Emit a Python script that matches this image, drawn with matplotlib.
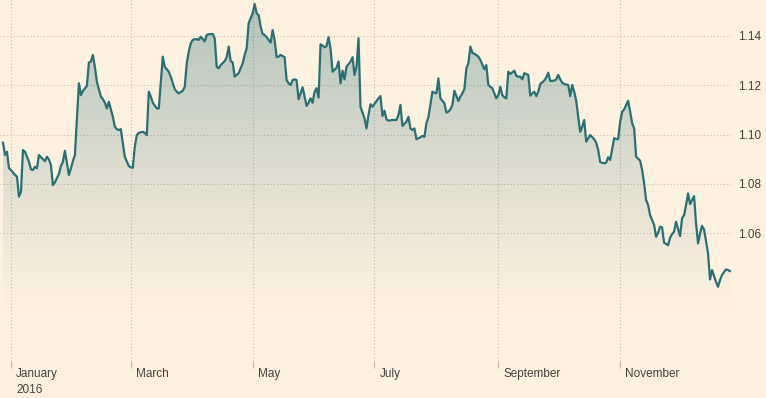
import numpy as np
import pandas as pd
import matplotlib
matplotlib.use("Agg")
import matplotlib.pyplot as plt
import matplotlib.dates as mdates
from matplotlib.transforms import ScaledTranslation

# EUR/USD daily
dates = [
    "2015-12-28", "2015-12-29", "2015-12-30", "2015-12-31",
    # Jan
    "2016-01-01", "2016-01-03", "2016-01-04", "2016-01-05", "2016-01-06", "2016-01-07", "2016-01-08",
    "2016-01-10", "2016-01-11", "2016-01-12", "2016-01-13", "2016-01-14", "2016-01-15", "2016-01-16",
    "2016-01-18", "2016-01-19", "2016-01-20", "2016-01-21", "2016-01-22", "2016-01-23", "2016-01-25",
    "2016-01-26", "2016-01-27", "2016-01-28", "2016-01-30", "2016-01-31",
    # Feb
    "2016-02-01", "2016-02-02", "2016-02-03", "2016-02-04", "2016-02-05", "2016-02-06", "2016-02-08",
    "2016-02-09", "2016-02-10", "2016-02-11", "2016-02-12", "2016-02-13", "2016-02-15", "2016-02-16",
    "2016-02-17", "2016-02-18", "2016-02-19", "2016-02-21", "2016-02-22", "2016-02-23", "2016-02-24",
    "2016-02-25", "2016-02-26", "2016-02-27", "2016-02-29",
    # Mar
    "2016-03-01", "2016-03-02", "2016-03-03", "2016-03-04", "2016-03-05", "2016-03-07", "2016-03-08",
    "2016-03-09", "2016-03-10", "2016-03-11", "2016-03-12", "2016-03-14", "2016-03-15", "2016-03-16",
    "2016-03-17", "2016-03-18", "2016-03-20", "2016-03-21", "2016-03-22", "2016-03-23", "2016-03-24",
    "2016-03-25", "2016-03-27", "2016-03-28", "2016-03-29", "2016-03-30", "2016-03-31",
    # Apr
    "2016-04-01", "2016-04-02", "2016-04-03", "2016-04-04", "2016-04-05", "2016-04-06", "2016-04-07",
    "2016-04-08", "2016-04-09", "2016-04-11", "2016-04-12", "2016-04-13", "2016-04-14", "2016-04-15",
    "2016-04-17", "2016-04-18", "2016-04-19", "2016-04-20", "2016-04-21", "2016-04-22", "2016-04-24",
    "2016-04-26", "2016-04-27", "2016-04-28", "2016-04-29",
    # May
    "2016-05-01", "2016-05-02", "2016-05-03", "2016-05-04", "2016-05-05", "2016-05-06", "2016-05-07",
    "2016-05-08", "2016-05-09", "2016-05-10", "2016-05-11", "2016-05-12", "2016-05-13", "2016-05-14",
    "2016-05-15", "2016-05-17", "2016-05-18", "2016-05-19", "2016-05-20", "2016-05-21", "2016-05-22",
    "2016-05-23", "2016-05-24", "2016-05-25", "2016-05-26", "2016-05-28", "2016-05-29", "2016-05-30",
    "2016-05-31",
    # Jun
    "2016-06-01", "2016-06-02", "2016-06-03", "2016-06-04", "2016-06-05", "2016-06-06", "2016-06-07",
    "2016-06-08", "2016-06-09", "2016-06-10", "2016-06-12", "2016-06-13", "2016-06-14", "2016-06-15",
    "2016-06-16", "2016-06-17", "2016-06-19", "2016-06-20", "2016-06-21", "2016-06-22", "2016-06-23",
    "2016-06-24", "2016-06-26", "2016-06-27", "2016-06-28", "2016-06-29", "2016-06-30",
    # Jul
    "2016-07-02", "2016-07-03", "2016-07-04", "2016-07-05", "2016-07-06", "2016-07-07", "2016-07-08",
    "2016-07-10", "2016-07-12", "2016-07-13", "2016-07-14", "2016-07-15", "2016-07-17", "2016-07-18",
    "2016-07-19", "2016-07-20", "2016-07-21", "2016-07-22", "2016-07-24", "2016-07-25", "2016-07-26",
    "2016-07-27", "2016-07-28", "2016-07-30", "2016-07-31",
    # Aug
    "2016-08-01", "2016-08-02", "2016-08-03", "2016-08-05", "2016-08-06", "2016-08-07", "2016-08-08",
    "2016-08-09", "2016-08-10", "2016-08-12", "2016-08-13", "2016-08-14", "2016-08-15", "2016-08-16",
    "2016-08-17", "2016-08-18", "2016-08-19", "2016-08-21", "2016-08-22", "2016-08-23", "2016-08-25",
    "2016-08-26", "2016-08-27", "2016-08-28", "2016-08-29", "2016-08-30", "2016-08-31",
    # Sep
    "2016-09-01", "2016-09-02", "2016-09-03", "2016-09-04", "2016-09-05", "2016-09-06", "2016-09-07",
    "2016-09-09", "2016-09-10", "2016-09-11", "2016-09-12", "2016-09-13", "2016-09-14", "2016-09-16",
    "2016-09-17", "2016-09-18", "2016-09-19", "2016-09-20", "2016-09-21", "2016-09-22", "2016-09-24",
    "2016-09-25", "2016-09-26", "2016-09-27", "2016-09-29", "2016-09-30",
    # Oct
    "2016-10-01", "2016-10-02", "2016-10-03", "2016-10-04", "2016-10-06", "2016-10-07", "2016-10-08",
    "2016-10-09", "2016-10-10", "2016-10-11", "2016-10-12", "2016-10-13", "2016-10-14", "2016-10-15",
    "2016-10-16", "2016-10-17", "2016-10-19", "2016-10-20", "2016-10-21", "2016-10-22", "2016-10-24",
    "2016-10-25", "2016-10-26", "2016-10-27", "2016-10-29", "2016-10-30", "2016-10-31",
    # Nov
    "2016-11-01", "2016-11-02", "2016-11-03", "2016-11-05", "2016-11-06", "2016-11-07", "2016-11-08",
    "2016-11-09", "2016-11-11", "2016-11-12", "2016-11-13", "2016-11-14", "2016-11-15", "2016-11-16",
    "2016-11-18", "2016-11-19", "2016-11-20", "2016-11-21", "2016-11-22", "2016-11-23", "2016-11-25",
    "2016-11-26", "2016-11-27", "2016-11-28", "2016-11-29",
    # Dec
    "2016-12-01", "2016-12-02", "2016-12-03", "2016-12-04", "2016-12-05", "2016-12-06", "2016-12-08",
    "2016-12-09", "2016-12-10", "2016-12-11", "2016-12-12", "2016-12-13", "2016-12-15", "2016-12-16",
    "2016-12-17", "2016-12-18", "2016-12-19", "2016-12-20", "2016-12-21", "2016-12-22", "2016-12-24",
    "2016-12-25", "2016-12-26",
]

rates = [
    1.0967, 1.0917, 1.0930, 1.0863,
    # Jan
    1.0856, 1.0836, 1.0829, 1.0748, 1.0768, 1.0937, 1.0930,
    1.0890, 1.0859, 1.0856, 1.0869, 1.0863, 1.0917, 1.0908,
    1.0892, 1.0910, 1.0899, 1.0876, 1.0795, 1.0806, 1.0840,
    1.0872, 1.0890, 1.0934, 1.0836, 1.0863,
    # Feb
    1.0892, 1.0917, 1.1059, 1.1208, 1.1160, 1.1177, 1.1197,
    1.1292, 1.1296, 1.1323, 1.1275, 1.1214, 1.1154, 1.1144,
    1.1129, 1.1106, 1.1133, 1.1072, 1.1032, 1.1022, 1.1018,
    1.1022, 1.0964, 1.0910, 1.0872,
    # Mar
    1.0867, 1.0865, 1.0951, 1.0998, 1.1007, 1.1011, 1.1007,
    1.0998, 1.1174, 1.1154, 1.1129, 1.1106, 1.1106, 1.1214,
    1.1316, 1.1275, 1.1255, 1.1235, 1.1210, 1.1184, 1.1174,
    1.1167, 1.1178, 1.1194, 1.1289, 1.1336, 1.1370,
    # Apr
    1.1384, 1.1387, 1.1387, 1.1384, 1.1397, 1.1388, 1.1378,
    1.1404, 1.1407, 1.1408, 1.1391, 1.1275, 1.1269, 1.1282,
    1.1298, 1.1314, 1.1357, 1.1298, 1.1293, 1.1235, 1.1249,
    1.1289, 1.1323, 1.1350, 1.1452,
    # May
    1.1492, 1.1530, 1.1492, 1.1485, 1.1438, 1.1408, 1.1404,
    1.1395, 1.1384, 1.1373, 1.1424, 1.1384, 1.1314, 1.1316,
    1.1323, 1.1314, 1.1221, 1.1208, 1.1201, 1.1221, 1.1224,
    1.1221, 1.1143, 1.1167, 1.1192, 1.1116, 1.1129, 1.1147,
    1.1129,
    # Jun
    1.1174, 1.1188, 1.1150, 1.1366, 1.1361, 1.1354, 1.1359,
    1.1395, 1.1350, 1.1255, 1.1271, 1.1296, 1.1208, 1.1259,
    1.1224, 1.1275, 1.1296, 1.1314, 1.1242, 1.1275, 1.1391,
    1.1113, 1.1066, 1.1025, 1.1079, 1.1123, 1.1113,
    # Jul
    1.1136, 1.1147, 1.1156, 1.1075, 1.1097, 1.1062, 1.1056,
    1.1059, 1.1059, 1.1079, 1.1120, 1.1035, 1.1052, 1.1072,
    1.1025, 1.1018, 1.1025, 1.0981, 1.0989, 1.0994, 1.0991,
    1.1046, 1.1070, 1.1174, 1.1170,
    # Aug
    1.1167, 1.1228, 1.1147, 1.1127, 1.1089, 1.1093, 1.1102,
    1.1120, 1.1178, 1.1136, 1.1154, 1.1167, 1.1184, 1.1269,
    1.1289, 1.1357, 1.1332, 1.1323, 1.1316, 1.1303, 1.1265,
    1.1282, 1.1201, 1.1194, 1.1188, 1.1167, 1.1147,
    # Sep
    1.1160, 1.1194, 1.1160, 1.1151, 1.1147, 1.1255, 1.1246,
    1.1259, 1.1238, 1.1235, 1.1235, 1.1224, 1.1249, 1.1242,
    1.1158, 1.1167, 1.1174, 1.1156, 1.1174, 1.1205, 1.1219,
    1.1232, 1.1251, 1.1217, 1.1219, 1.1224,
    # Oct
    1.1242, 1.1224, 1.1210, 1.1205, 1.1201, 1.1156, 1.1201,
    1.1174, 1.1137, 1.1072, 1.1011, 1.1032, 1.1059, 1.0971,
    1.0985, 1.0998, 1.0981, 1.0967, 1.0937, 1.0888, 1.0883,
    1.0886, 1.0908, 1.0897, 1.0985, 1.0982, 1.0981,
    # Nov
    1.1052, 1.1093, 1.1102, 1.1137, 1.1093, 1.1046, 1.1025,
    1.0910, 1.0894, 1.0856, 1.0802, 1.0734, 1.0714, 1.0673,
    1.0633, 1.0585, 1.0601, 1.0626, 1.0623, 1.0561, 1.0551,
    1.0581, 1.0596, 1.0606, 1.0646,
    # Dec
    1.0588, 1.0660, 1.0673, 1.0714, 1.0761, 1.0718, 1.0750,
    1.0640, 1.0558, 1.0599, 1.0629, 1.0615, 1.0518, 1.0412,
    1.0450, 1.0426, 1.0402, 1.0382, 1.0409, 1.0430, 1.0453,
    1.0450, 1.0446,
]

y_ticks = [1.06, 1.08, 1.10, 1.12, 1.14]
x_ticks = ["2016-01-01", "2016-03-01", "2016-05-01", "2016-07-01", "2016-09-01", "2016-11-01"]
x_labels = ["January\n2016", "March", "May", "July", "September", "November"]

BG = "#fff1e0"
LINE = "#277075"
TXT = "#43423f"
GRID = "#c4bdb2"

x = pd.to_datetime(dates)
y = np.array(rates)

fig = plt.figure(figsize=(7.66, 3.98), dpi=100, facecolor=BG)
ax = fig.add_axes([0.0, 37 / 398, 731 / 766, 361 / 398])
ax.set_facecolor(BG)

x0 = mdates.date2num(pd.Timestamp("2015-12-26 12:00"))
x1 = mdates.date2num(pd.Timestamp("2016-12-26 12:00"))
ymin, ymax = 1.0081, 1.1546
ax.set_xlim(x0, x1)
ax.set_ylim(ymin, ymax)

# gradient fill under the line, fading out towards the bottom
poly = ax.fill_between(x, y, ymin, facecolor="none", edgecolor="none")
vals = np.linspace(ymin, ymax, 256)
alpha = np.clip((vals - 1.028) / (ymax - 1.028), 0, 1) ** 1.1 * 0.36
rgb = matplotlib.colors.to_rgb(LINE)
grad = np.zeros((256, 1, 4))
grad[:, 0, 0], grad[:, 0, 1], grad[:, 0, 2] = rgb
grad[:, 0, 3] = alpha
im = ax.imshow(grad, aspect="auto", origin="lower", extent=[x0, x1, ymin, ymax], zorder=1)
im.set_clip_path(poly.get_paths()[0], transform=ax.transData)

ax.plot(x, y, color=LINE, lw=1.6, zorder=3, solid_joinstyle="round")

for s in ax.spines.values():
    s.set_visible(False)

ax.set_yticks(y_ticks)
ax.set_yticklabels([f"{v:.2f}" for v in y_ticks])
ax.yaxis.tick_right()
ax.tick_params(axis="y", length=0, pad=5, labelsize=8.5, labelcolor=TXT)

ax.set_xticks(mdates.date2num(pd.to_datetime(x_ticks)))
ax.set_xticklabels(x_labels)
ax.tick_params(axis="x", length=5, width=0.8, color="#bdb6ac", pad=0, labelsize=8.5, labelcolor=TXT)
off = ScaledTranslation(5 / 100, 0, fig.dpi_scale_trans)
for lab in ax.get_xticklabels():
    lab.set_horizontalalignment("left")
    lab.set_multialignment("left")
    lab.set_linespacing(1.45)
    lab.set_transform(lab.get_transform() + off)

ax.grid(True, color=GRID, linestyle=(0, (1, 2)), linewidth=0.8, zorder=0)
ax.set_axisbelow(True)

for lab in ax.get_xticklabels() + ax.get_yticklabels():
    lab.set_fontfamily(["Liberation Sans", "DejaVu Sans"])

fig.savefig("out.png", dpi=100, facecolor=BG)
